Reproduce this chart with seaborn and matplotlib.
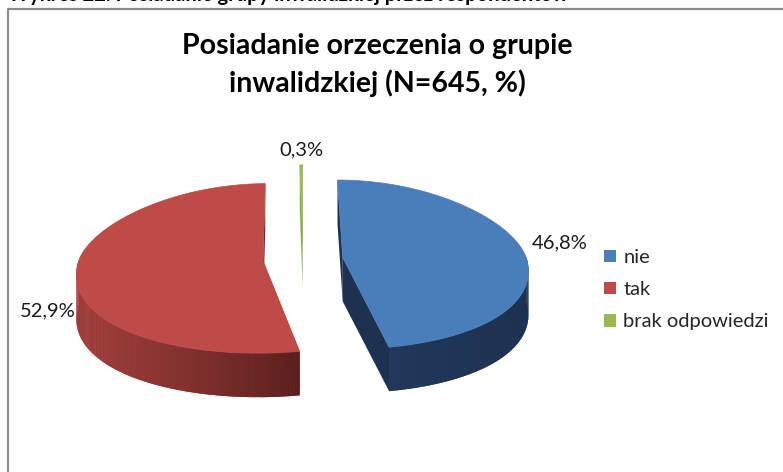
import numpy as np
import matplotlib
matplotlib.use("Agg")
import matplotlib.pyplot as plt
from matplotlib.patches import Polygon, Patch
from matplotlib.collections import PolyCollection
from matplotlib.colors import to_rgb
import seaborn as sns

sns.set_theme(style="white")
plt.rcParams["font.family"] = ["Lato", "DejaVu Sans"]

# data
labels = ["nie", "tak", "brak odpowiedzi"]
values = [46.8, 52.9, 0.3]
value_labels = ["46,8%", "52,9%", "0,3%"]
title = "Posiadanie orzeczenia o grupie\ninwalidzkiej (N=645, %)"
caption = "Wykres 22. Posiadanie grupy inwalidzkiej przez respondentów"

# styles
top_colors = ["#4a7ebb", "#be4b48", "#98b954"]
side_light = ["#22395a", "#a8433f", "#86a848"]
side_dark = ["#1d3150", "#5a1f1d", "#e4edd4"]
label_shift = [(1.21, -5), (1.15, 38), (1.19, 0)]

W, H = 783, 472
CX, CY = 303, 259
R = 184
K_BACK, K_FRONT = 0.42, 0.50
PX = 0.13          # fake perspective: front wider than back
DEPTH = 44
EXPLODE = 40


def proj(xw, yw):
    """world (x right, y away from viewer) -> screen px"""
    xw, yw = np.asarray(xw, float), np.asarray(yw, float)
    k = np.where(yw > 0, K_BACK, K_FRONT)
    s = 1 - PX * yw / R
    return CX + xw * s, CY - yw * k


def mix(c1, c2, f):
    a, b = np.array(to_rgb(c1)), np.array(to_rgb(c2))
    return tuple(a + (b - a) * f)


fig = plt.figure(figsize=(W / 100, H / 100), dpi=100)
ax = fig.add_axes([0, 0, 1, 1])
ax.set_xlim(0, W)
ax.set_ylim(H, 0)
ax.axis("off")

total = sum(values)
bounds = np.concatenate([[0], np.cumsum(values)]) / total * 360

# draw the small (back) slice first
order = sorted(range(len(values)), key=lambda i: values[i])
for i in order:
    a0, a1 = bounds[i], bounds[i + 1]
    mid = np.radians((a0 + a1) / 2)
    ex, ey = EXPLODE * np.sin(mid), EXPLODE * np.cos(mid)

    def rim(theta, r=R):
        t = np.radians(theta)
        return proj(ex + r * np.sin(t), ey + r * np.cos(t))

    cx, cy = (float(v) for v in proj(ex, ey))

    # side: visible front part of the outer rim
    f0, f1 = max(a0, 90), min(a1, 270)
    if f1 > f0:
        th = np.linspace(f0, f1, 120)
        xs, ys = rim(th)
        band = list(zip(xs, ys)) + list(zip(xs[::-1], ys[::-1] + DEPTH))
        ax.add_patch(Polygon(band, closed=True, lw=0,
                             facecolor=mix(side_light[i], side_dark[i], 0.5), zorder=1))
        quads, cols = [], []
        xmin, xmax = xs.min(), xs.max()
        for j in range(len(th) - 1):
            quads.append([(xs[j], ys[j]), (xs[j + 1], ys[j + 1]),
                          (xs[j + 1], ys[j + 1] + DEPTH), (xs[j], ys[j] + DEPTH)])
            f = ((xs[j] + xs[j + 1]) / 2 - xmin) / max(xmax - xmin, 1)
            cols.append(mix(side_light[i], side_dark[i], f))
        ax.add_collection(PolyCollection(quads, facecolors=cols, linewidths=0,
                                         zorder=1.1))
    # side: the radial cut faces
    for a in (a0, a1):
        px, py = (float(v) for v in rim(a))
        ax.add_patch(Polygon([(cx, cy), (px, py), (px, py + DEPTH), (cx, cy + DEPTH)],
                             closed=True, facecolor=side_dark[i] if i != 2 else side_light[i],
                             edgecolor="none", zorder=1))

    # top face
    th = np.linspace(a0, a1, max(int((a1 - a0) * 2), 4))
    xs, ys = rim(th)
    pts = [(cx, cy)] + list(zip(xs, ys))
    ax.add_patch(Polygon(pts, closed=True, facecolor=top_colors[i],
                         edgecolor=top_colors[i], linewidth=0.5, zorder=2))

    # value label
    rf, dy = label_shift[i]
    lx, ly = rim((a0 + a1) / 2, R * rf)
    ax.text(float(lx), float(ly) + dy, value_labels[i], ha="center", va="center",
            fontsize=14.5, color="#1a1a1a", zorder=3)

ax.text(377, 33, title, ha="center", va="top", fontsize=20.5, fontweight="bold",
        linespacing=1.45, color="#000000")
ax.text(8, 1, caption, ha="left", va="baseline", fontsize=14.5, fontweight="bold",
        color="#000000")

# frame of the chart area
ax.plot([8, 8, W], [H, 9, 9], color="#8c8c8c", lw=1.6, solid_capstyle="butt",
        zorder=0)

handles = [Patch(facecolor=c, edgecolor="none") for c in top_colors]
ax.legend(handles, labels, loc="upper left", bbox_to_anchor=(604, 249),
          bbox_transform=ax.transData, frameon=False, fontsize=14.5,
          handlelength=0.6, handleheight=0.6, handletextpad=0.35,
          labelspacing=0.75, borderpad=0, borderaxespad=0)

fig.savefig("out.png", dpi=100)
